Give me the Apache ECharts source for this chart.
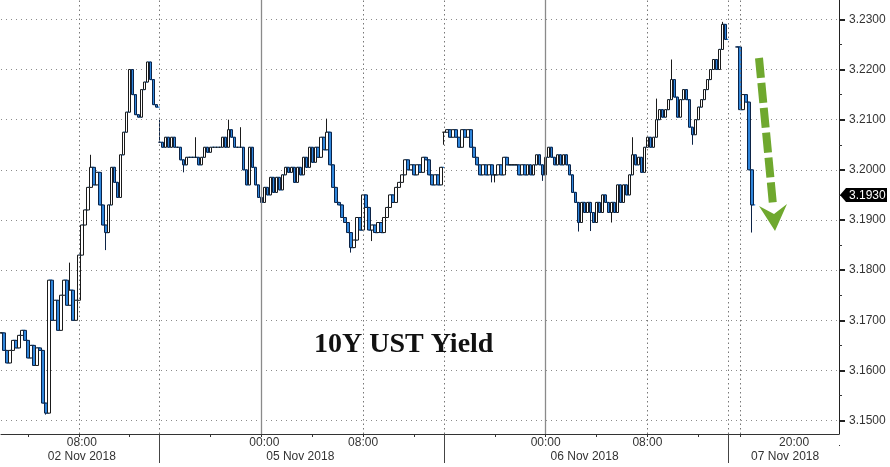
<!DOCTYPE html>
<html><head><meta charset="utf-8">
<script src="https://cdn.jsdelivr.net/npm/echarts@6/dist/echarts.min.js"></script>
<style>html,body{margin:0;padding:0;background:#fff}#c{width:890px;height:467px}</style>
</head><body><div id="c"></div>
<script>
// ---- data (15-minute slots on a compressed trading-time axis) ----
const slotCount = 281;

const session1Start = 0;
const session1 = [3.1675,3.1640,3.1615,3.1640,3.1660,3.1645,3.1670,3.1680,3.1660,3.1625,
  3.1650,3.1610,3.1645,3.1640,3.1535,3.1515,3.1780,3.1700,3.1740,3.1680,
  3.1750,3.1780,3.1730,3.1760,3.1700,3.1740,3.1830,3.1890,3.1920,3.1965,
  3.2005,3.1970,3.1995,3.1930,3.1890,3.1875,3.1930,3.2005,3.1975,3.1945,
  3.2030,3.2075,3.2115,3.2200,3.2150,3.2110,3.2105,3.2160,3.2175,3.2215,
  3.2180,3.2130,3.2125];

const session2Start = 53;
const session2 = [3.2055,3.2045,3.2065,3.2045,3.2065,3.2045,3.2045,3.2020,3.2010,3.2025,
  3.2025,3.2025,3.2025,3.2010,3.2025,3.2045,3.2035,3.2045,3.2045,3.2045,
  3.2045,3.2065,3.2045,3.2080,3.2065,3.2045,3.2045,3.2045,3.2000,3.1970,
  3.2045,3.2005,3.1970,3.1945,3.1935,3.1965,3.1950,3.1985,3.1955,3.1985,
  3.1960,3.1990,3.2005,3.1995,3.2005,3.1975,3.2005,3.1990,3.2025,3.2005,
  3.2045,3.2015,3.2045,3.2025,3.2065,3.2040,3.2075,3.2010,3.1965,3.1935,
  3.1930,3.1905,3.1895,3.1875,3.1845,3.1860,3.1905,3.1880,3.1950,3.1925,
  3.1880,3.1890,3.1875,3.1895,3.1875,3.1905,3.1925,3.1950,3.1935,3.1965,
  3.1975,3.1990,3.2020,3.2000,3.2010,3.1990,3.2010,3.1995,3.2025,3.2020,
  3.1990,3.1970,3.1990,3.1970,3.2005];

const session3Start = 148;
const session3 = [3.2075,3.2080,3.2065,3.2080,3.2065,3.2045,3.2080,3.2065,3.2080,3.2045,
  3.2025,3.2010,3.1990,3.2010,3.1990,3.2010,3.1990,3.1990,3.2010,3.1990,
  3.2025,3.2010,3.2010,3.2010,3.2010,3.1990,3.2010,3.1990,3.2010,3.1990,
  3.2010,3.2030,3.2010,3.1990,3.2025,3.2045,3.2025,3.2010,3.2030,3.2010,
  3.2030,3.2010,3.1990,3.1955,3.1935,3.1895,3.1935,3.1915,3.1935,3.1915,
  3.1895,3.1935,3.1915,3.1950,3.1935,3.1915,3.1935,3.1915,3.1970,3.1935,
  3.1970,3.1950,3.1990,3.2030,3.2010,3.2025,3.1995,3.2045,3.2065,3.2045,
  3.2065,3.2100,3.2120,3.2105,3.2120,3.2140,3.2180,3.2145,3.2105,3.2140,
  3.2160,3.2140,3.2085,3.2070,3.2100,3.2125,3.2140,3.2160,3.2180,3.2200,
  3.2220,3.2200,3.2240,3.2290,3.2260];

const session4Start = 246;
const session4 = [3.2245,3.2120,3.2150,3.2135,3.2000,3.1930];

// wicks: slot, low, high
const wickSlots = [15,23,30,35,53,61,65,76,80,109,117,124,148,164,165,181,193,197,204,211,219,224,231,241,251];
const wickLows  = [3.1512,null,null,3.1840,null,3.1995,null,null,null,null,3.1835,3.1858,3.2050,3.1975,3.1975,3.1978,3.1877,3.1878,3.1895,null,null,null,3.2050,null,3.1875];
const wickHighs = [null,3.1815,3.2030,null,3.2100,null,3.2065,3.2100,3.2085,3.2102,null,null,null,null,null,null,null,null,null,3.2065,3.2142,3.2220,null,3.2295,null];

// axis ticks / labels (slot indices)
const tickSlots = [9,26,43,70,87,104,121,138,165,182,199,216,233,247];
const separatorSlots = [53,148,243];
const timeLabelSlots = [27,88,121,182,216,265];
const timeLabels = ['08:00','00:00','08:00','00:00','08:00','20:00'];
const dateLabelSlots = [27,100,195,262];
const dateLabels = ['02 Nov 2018','05 Nov 2018','06 Nov 2018','07 Nov 2018'];
const solidGridSlots = [87,182];
const dottedGridSlots = [26,53,121,148,216,243,247];
const yMin = 3.14, yMax = 3.24, yStep = 0.01;
const lastValueLabel = '3.1930';
const titleText = '10Y UST Yield';

// ---- build ----
const FONT = 'Liberation Sans, Arial, sans-serif';
const cats = Array.from({length: slotCount}, (_, i) => String(i));
const candle = new Array(slotCount).fill('-');
const lineSeries = [];
[[session1Start, session1],[session2Start, session2],[session3Start, session3],[session4Start, session4]].forEach(([start, vals]) => {
  const ld = new Array(slotCount).fill('-');
  vals.forEach((v, k) => {
    const i = start + k;
    const o = k === 0 ? v : vals[k - 1];
    let lo = Math.min(o, v), hi = Math.max(o, v);
    const w = wickSlots.indexOf(i);
    if (w >= 0) {
      if (wickLows[w] != null) lo = Math.min(lo, wickLows[w]);
      if (wickHighs[w] != null) hi = Math.max(hi, wickHighs[w]);
    }
    candle[i] = [o, v, lo, hi];
    ld[i] = v;
  });
  lineSeries.push({type: 'line', xAxisIndex: 0, yAxisIndex: 0, data: ld, step: 'end', symbol: 'none',
    lineStyle: {color: '#1e7bd6', width: 1.2}, z: 1, silent: true});
});

const chart = echarts.init(document.getElementById('c'), null, {renderer: 'canvas'});
chart.setOption({
  animation: false,
  backgroundColor: '#fff',
  title: {text: titleText, left: 309, top: 326,
    textStyle: {fontFamily: 'Liberation Serif, Times New Roman, serif', fontWeight: 'bold', fontSize: 28, color: '#111'}},
  grid: [
    {left: 1, right: 51, top: -30.8, height: 501.6, outerBoundsMode: 'none', containLabel: false},
    {left: 1, right: 51, top: 0, bottom: 33, outerBoundsMode: 'none', containLabel: false}
  ],
  xAxis: [
    {type: 'category', gridIndex: 0, data: cats, boundaryGap: false, show: false},
    {type: 'category', gridIndex: 1, data: cats, boundaryGap: false, position: 'bottom',
      axisLine: {show: true, lineStyle: {color: '#333', width: 1}},
      axisTick: {show: true, length: 3, interval: (i) => tickSlots.includes(i), lineStyle: {color: '#333'}},
      axisLabel: {show: true, interval: (i) => timeLabelSlots.includes(i), margin: 3,
        formatter: (v, i) => { const k = timeLabelSlots.indexOf(Number(v)); return k >= 0 ? timeLabels[k] : ''; },
        color: '#333', fontSize: 12, fontFamily: FONT},
      splitLine: {show: false}},
    {type: 'category', gridIndex: 1, data: cats, boundaryGap: false, position: 'bottom',
      axisLine: {show: false},
      axisTick: {show: true, length: 29, interval: (i) => separatorSlots.includes(i), lineStyle: {color: '#444', width: 1}},
      axisLabel: {show: true, interval: (i) => dateLabelSlots.includes(i), margin: 17,
        formatter: (v) => { const k = dateLabelSlots.indexOf(Number(v)); return k >= 0 ? dateLabels[k] : ''; },
        color: '#333', fontSize: 12, fontFamily: FONT},
      splitLine: {show: false}}
  ],
  yAxis: [
    {type: 'value', gridIndex: 0, min: yMin, max: yMax, interval: yStep, position: 'right',
      axisLine: {show: false},
      axisTick: {show: true, length: 6, lineStyle: {color: '#222', width: 2}},
      minorTick: {show: true, splitNumber: 2, length: 3, lineStyle: {color: '#333', width: 1}},
      axisLabel: {formatter: (v) => v.toFixed(4), margin: 10, color: '#333', fontSize: 12, fontFamily: FONT,
        showMinLabel: false, showMaxLabel: false},
      splitLine: {show: true, lineStyle: {color: '#8c8c8c', type: [1, 4], width: 1}},
      minorSplitLine: {show: false}},
    {type: 'value', gridIndex: 1, min: 0, max: 1, position: 'right',
      axisLine: {show: true, lineStyle: {color: '#222', width: 1}},
      axisTick: {show: false}, axisLabel: {show: false}, splitLine: {show: false}}
  ],
  series: [
    ...lineSeries,
    {type: 'candlestick', xAxisIndex: 0, yAxisIndex: 0, data: candle, barWidth: 3, z: 3, silent: true,
      itemStyle: {color: '#ffffff', color0: '#2f86dc', borderColor: '#1a1a1a', borderColor0: '#0c2346', borderWidth: 1}},
    {type: 'line', xAxisIndex: 1, yAxisIndex: 1, data: [], silent: true,
      markLine: {silent: true, symbol: ['none', 'none'], label: {show: false}, animation: false,
        data: [
          ...solidGridSlots.map(s => ({xAxis: s, lineStyle: {color: '#8a8a8a', type: 'solid', width: 1.3}})),
          ...dottedGridSlots.map(s => ({xAxis: s, lineStyle: {color: '#777', type: [1.5, 3], width: 1}}))
        ]}}
  ],
  graphic: [
    {type: 'line', shape: {x1: 759, y1: 58, x2: 773, y2: 205}, style: {stroke: '#6fa82e', lineWidth: 8, lineDash: [20, 5]}, z: 100},
    {type: 'polygon', shape: {points: [[759, 206], [774, 214], [787, 204], [775, 231]]}, style: {fill: '#6fa82e'}, z: 100},
    {type: 'polygon', shape: {points: [[840, 195], [846, 188], [887, 188], [887, 202], [846, 202]]}, style: {fill: '#000'}, z: 100},
    {type: 'text', x: 849, y: 195.5, style: {text: lastValueLabel, fill: '#fff', font: '12px Liberation Sans', verticalAlign: 'middle'}, z: 101},
    {type: 'rect', shape: {x: 840, y: 438, width: 10, height: 14}, style: {fill: '#fff'}, z: 100}
  ]
});
</script>
</body></html>
